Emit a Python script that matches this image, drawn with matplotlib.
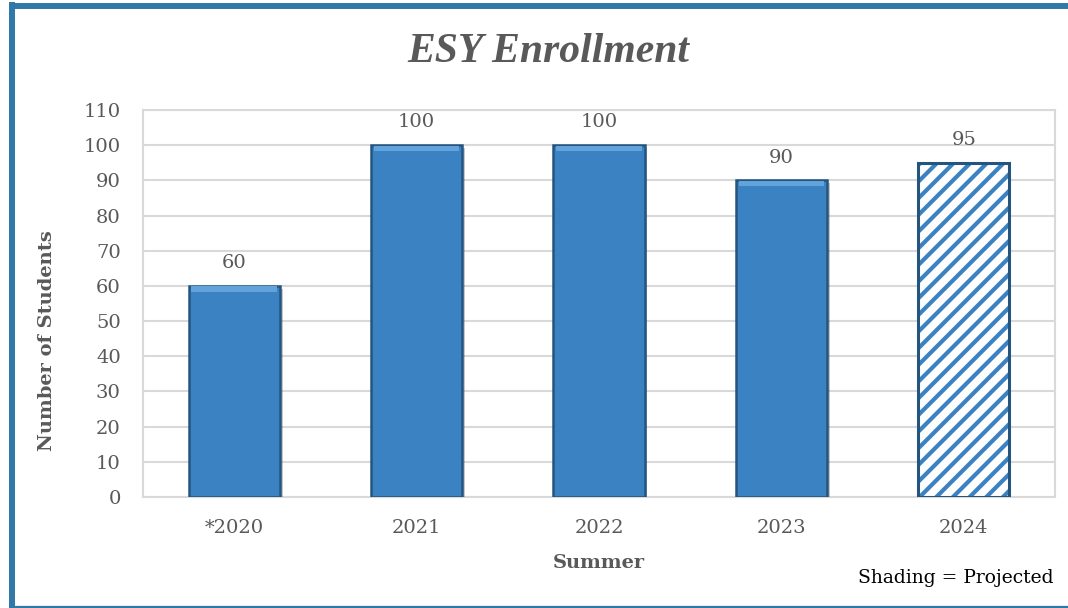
import matplotlib
matplotlib.use("Agg")
import matplotlib.pyplot as plt
from matplotlib.lines import Line2D
import matplotlib.patheffects as pe

# Summer ESY enrollment figures
summers = ["*2020", "2021", "2022", "2023", "2024"]
students = [60, 100, 100, 90, 95]
projected = [False, False, False, False, True]
y_ticks = list(range(0, 111, 10))

BLUE = "#3a82c1"
LIGHT = "#62a3dc"
DARK = "#25557f"
FRAME = "#2f78a8"
GREY_TXT = "#595959"
GRID = "#d9d9d9"
SERIF = "DejaVu Serif"

plt.rcParams["hatch.linewidth"] = 3.0

W, H = 1068, 608
fig = plt.figure(figsize=(W / 100, H / 100), dpi=100)

# outer chart frame: left, top and bottom edges
def fig_line(x0, y0, x1, y1, lw):
    fig.add_artist(Line2D([x0 / W, x1 / W], [1 - y0 / H, 1 - y1 / H],
                          transform=fig.transFigure, color=FRAME, linewidth=lw,
                          solid_capstyle="butt"))

fig_line(12, 2, 12, H, 4.3)
fig_line(9, 6, W, 6, 4.3)
fig_line(9, 606.5, W, 606.5, 1.6)

ax = fig.add_axes([143 / W, 1 - 497 / H, 912 / W, 387 / H])
x = list(range(len(summers)))
shadow = [pe.SimplePatchShadow(offset=(2, -2), alpha=0.25), pe.Normal()]

for xi, val, proj in zip(x, students, projected):
    if proj:
        ax.bar(xi, val, width=0.5, color="white", edgecolor=BLUE, hatch="//",
               linewidth=0, zorder=3)
        ax.bar(xi, val, width=0.5, fill=False, edgecolor=DARK, linewidth=2.2, zorder=4)
    else:
        ax.bar(xi, val, width=0.5, color=BLUE, edgecolor=DARK, linewidth=1.8, zorder=3,
               path_effects=shadow)
        # lighter bevel along the top edge
        ax.bar(xi, 1.5, bottom=val - 1.6, width=0.47, color=LIGHT, linewidth=0, zorder=4)
    ax.text(xi, val + 3.9, f"{val}", ha="center", va="bottom", fontsize=14,
            family=SERIF, color=GREY_TXT)

ax.set_xlim(-0.5, len(summers) - 0.5)
ax.set_ylim(0, 110)
ax.set_yticks(y_ticks)
ax.set_xticks(x)
ax.set_xticklabels(summers)
ax.yaxis.grid(True, color=GRID, linewidth=1.5, zorder=0)
ax.set_axisbelow(True)
for s in ax.spines.values():
    s.set_color(GRID)
    s.set_linewidth(1.5)
ax.tick_params(length=0, labelsize=14, labelcolor=GREY_TXT, pad=16)
ax.tick_params(axis="x", pad=16)
for lab in ax.get_xticklabels() + ax.get_yticklabels():
    lab.set_family(SERIF)

ax.set_ylabel("Number of Students", fontsize=14, fontweight="bold", family=SERIF,
              color=GREY_TXT)
ax.yaxis.set_label_coords(-0.095, 0.405)
ax.set_xlabel("Summer", fontsize=14, fontweight="bold", family=SERIF, color=GREY_TXT)
ax.xaxis.set_label_coords(0.5, -0.147)

fig.text(548 / W, 1 - 52 / H, "ESY Enrollment", ha="center", va="center", fontsize=30,
         fontweight="bold", fontstyle="italic", family="Liberation Serif", color=GREY_TXT)
fig.text(1054 / W, 1 - 578 / H, "Shading = Projected", ha="right", va="center",
         fontsize=13.5, family=SERIF, color="black")

fig.savefig("out.png", dpi=100)
